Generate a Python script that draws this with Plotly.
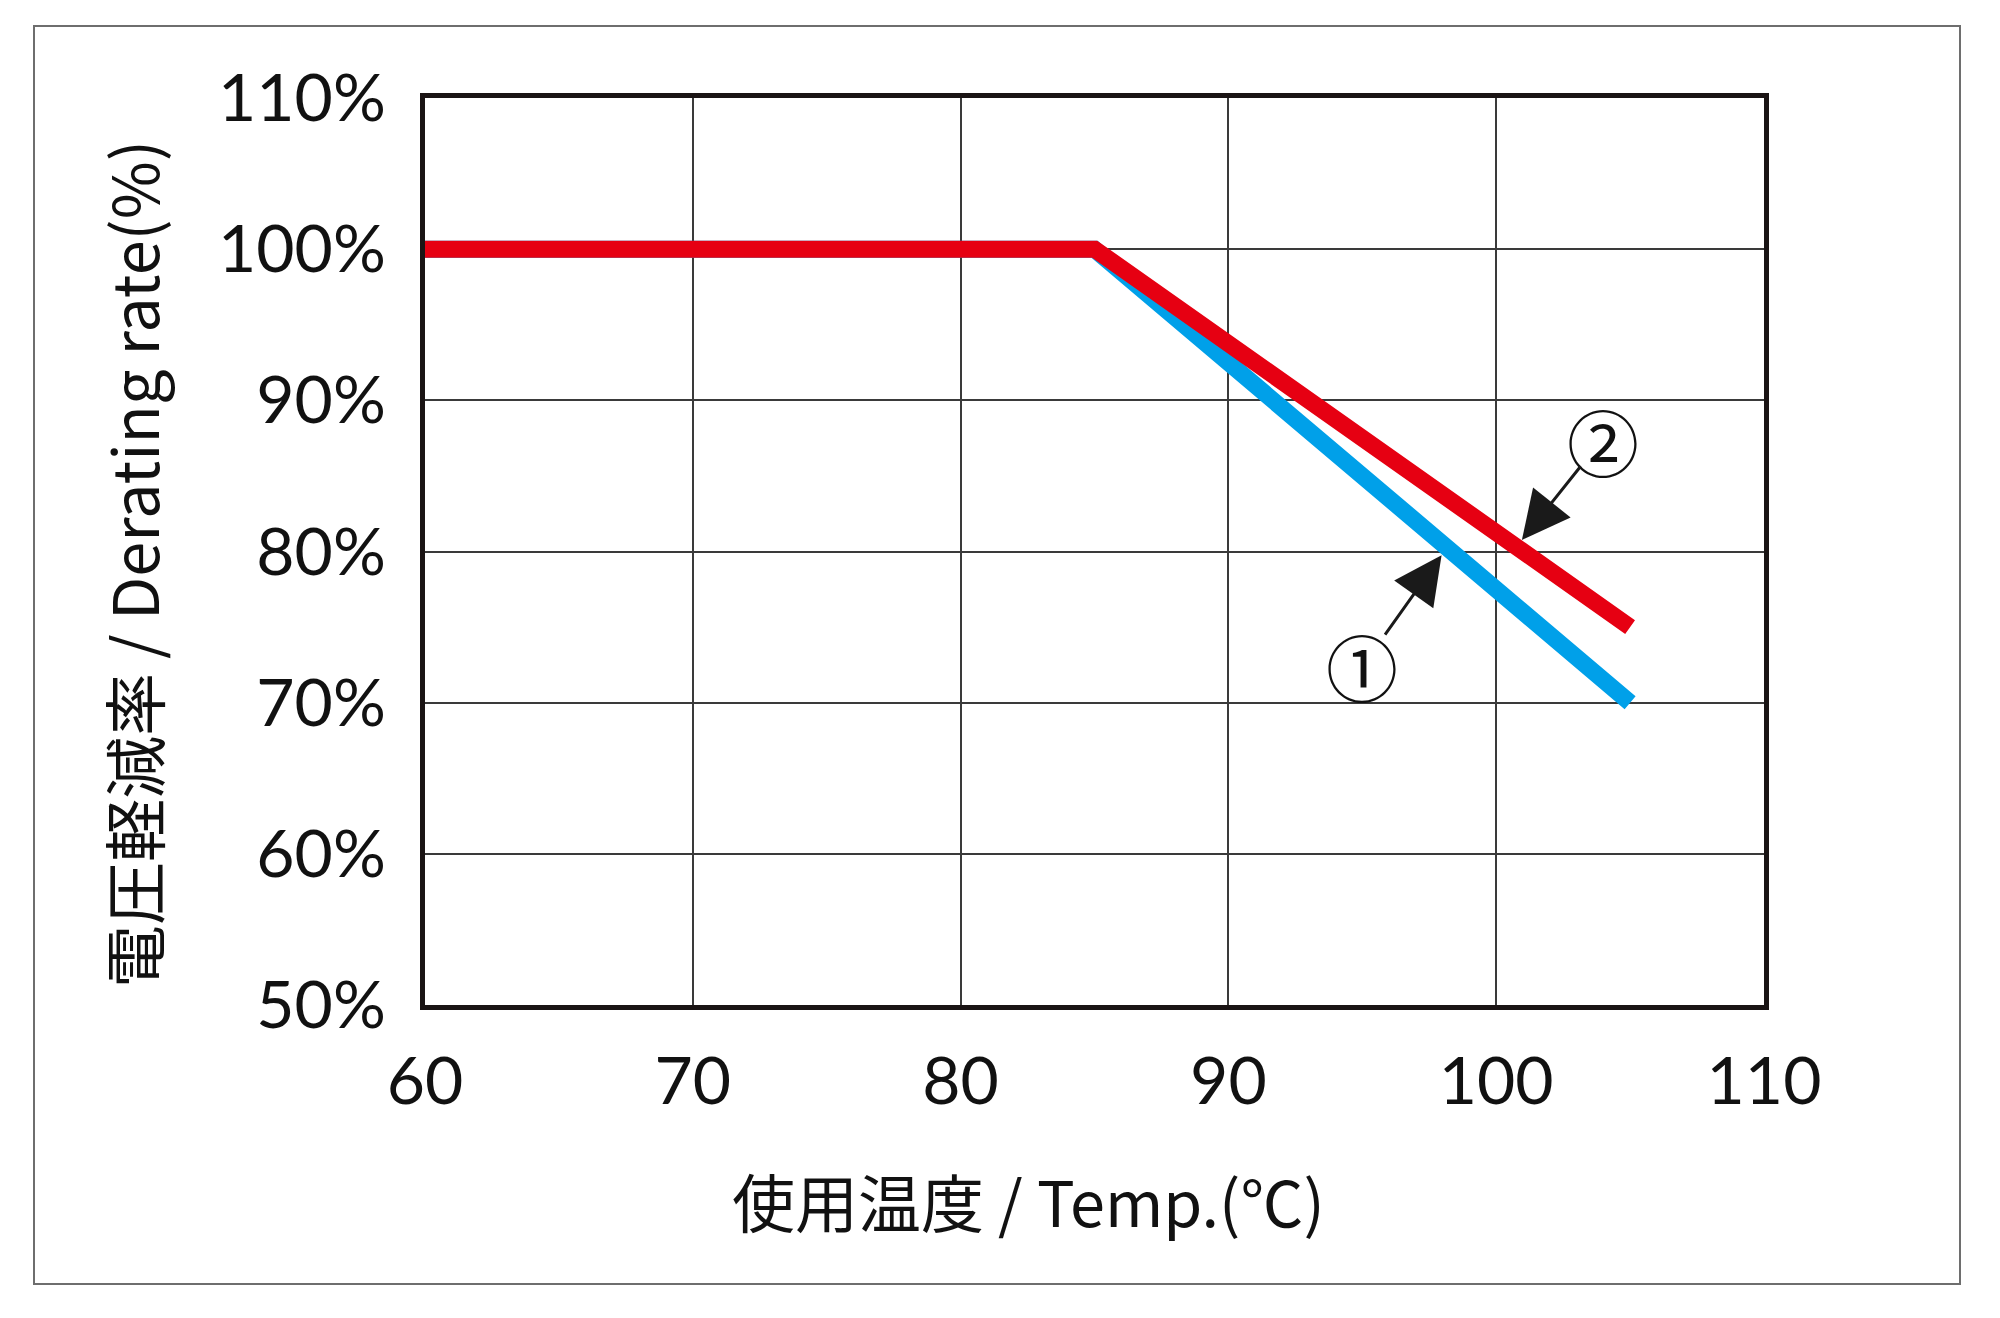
import plotly.graph_objects as go

# Data
temp_c = [60, 85, 105]
rate_1 = [100, 100, 70]   # line ① (blue)
rate_2 = [100, 100, 75]   # line ② (red)
x_ticks = [60, 70, 80, 90, 100, 110]
y_ticks = [50, 60, 70, 80, 90, 100, 110]
x_title = "使用温度 / Temp.(℃)"
y_title = "電圧軽減率 / Derating rate(%)"
labels = ["①", "②"]

BLUE = "#00A0E9"
RED = "#E60012"
CJK = "Noto Sans CJK JP"
TICKFONT = "Lato"

fig = go.Figure()
fig.add_trace(go.Scatter(x=temp_c, y=rate_1, mode="lines",
                         line=dict(color=BLUE, width=17), hoverinfo="skip"))
fig.add_trace(go.Scatter(x=temp_c, y=rate_2, mode="lines",
                         line=dict(color=RED, width=17), hoverinfo="skip"))

L, R, T, B = 425, 236, 98, 313
W, H = 2000, 1318
pw, ph = W - L - R, H - T - B

def px2paper(px, py):
    return (px - L) / pw, (H - B - py) / ph

# outer border
x0, y0 = px2paper(34, 1284)
x1, y1 = px2paper(1960, 26)
fig.add_shape(type="rect", xref="paper", yref="paper", x0=x0, y0=y0, x1=x1, y1=y1,
              line=dict(color="#6e6e6e", width=2), layer="below")

# annotations: circled numbers and arrows
fig.add_annotation(x=94.98, y=72.5, text=labels[0], showarrow=False,
                   font=dict(family=CJK, size=72, color="#111"))
fig.add_annotation(x=103.98, y=87.4, text=labels[1], showarrow=False,
                   font=dict(family=CJK, size=72, color="#111"))
fig.add_annotation(x=97.96, y=79.75, ax=95.81, ay=74.4, axref="x", ayref="y",
                   text="", showarrow=True, arrowhead=2, arrowwidth=3,
                   arrowsize=3.2, arrowcolor="#1a1a1a", standoff=0, startstandoff=0)
fig.add_annotation(x=100.96, y=80.76, ax=103.2, ay=85.74, axref="x", ayref="y",
                   text="", showarrow=True, arrowhead=2, arrowwidth=3,
                   arrowsize=3.2, arrowcolor="#1a1a1a", standoff=0, startstandoff=0)

# axis titles
tx, ty = px2paper(1028, 1199)
fig.add_annotation(xref="paper", yref="paper", x=tx, y=ty, text=x_title,
                   showarrow=False, font=dict(family=CJK, size=63, color="#111"),
                   xanchor="center", yanchor="middle")
tx, ty = px2paper(131, 564)
fig.add_annotation(xref="paper", yref="paper", x=tx, y=ty, text=y_title,
                   showarrow=False, textangle=-90,
                   font=dict(family=CJK, size=63, color="#111"),
                   xanchor="center", yanchor="middle")

fig.update_layout(
    width=W, height=H,
    margin=dict(l=L, r=R, t=T, b=B, pad=0),
    paper_bgcolor="white", plot_bgcolor="white",
    showlegend=False,
)
fig.update_xaxes(range=[60, 110], tickvals=x_ticks, ticktext=[str(v) for v in x_ticks],
                 showgrid=True, gridcolor="#3a3a3a", gridwidth=2,
                 showline=True, linecolor="#1a1414", linewidth=5, mirror=True,
                 zeroline=False, ticks="", ticklabelstandoff=15,
                 tickfont=dict(family=TICKFONT, size=66, color="#111"))
fig.update_yaxes(range=[50, 110], tickvals=y_ticks, ticktext=[f"{v}%" for v in y_ticks],
                 showgrid=True, gridcolor="#3a3a3a", gridwidth=2,
                 showline=True, linecolor="#1a1414", linewidth=5, mirror=True,
                 zeroline=False, ticks="", ticklabelstandoff=21,
                 tickfont=dict(family=TICKFONT, size=66, color="#111"))

fig.write_html("out.html")
